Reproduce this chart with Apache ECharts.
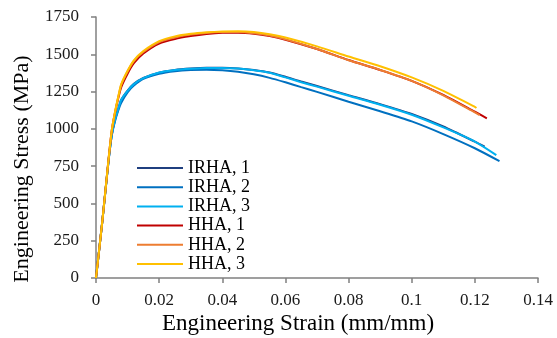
<!DOCTYPE html>
<html>
<head>
<meta charset="utf-8">
<script src="https://cdn.jsdelivr.net/npm/echarts@6/dist/echarts.min.js"></script>
<style>html,body{margin:0;padding:0;background:#fff}#c{width:557px;height:338px}</style>
</head>
<body>
<div id="c"></div>
<script>
// Tick labels
var xTicks = [0, 0.02, 0.04, 0.06, 0.08, 0.1, 0.12, 0.14];
var yTicks = [0, 250, 500, 750, 1000, 1250, 1500, 1750];
var xTitle = 'Engineering Strain (mm/mm)';
var yTitle = 'Engineering Stress (MPa)';

// Series names and colours
var seriesNames = ['IRHA, 1', 'IRHA, 2', 'IRHA, 3', 'HHA, 1', 'HHA, 2', 'HHA, 3'];
var seriesColors = ['#1F3F7F', '#0070C0', '#00B0F0', '#C00000', '#ED7D31', '#FFC000'];

// IRHA, 1
var irha1Strain = [0, 0.002, 0.004, 0.005, 0.006, 0.007, 0.008, 0.01, 0.012, 0.015, 0.02, 0.025, 0.03, 0.035, 0.04, 0.045, 0.05, 0.055, 0.06, 0.065, 0.07, 0.08, 0.09, 0.1, 0.11, 0.12, 0.1231];
var irha1Stress = [0, 380, 790, 960, 1060, 1130, 1195, 1257, 1302, 1342, 1377, 1395, 1404, 1409, 1409, 1405, 1395, 1378, 1349, 1317, 1287, 1226, 1166, 1100, 1016, 914, 880];
// IRHA, 2
var irha2Strain = [0, 0.002, 0.004, 0.005, 0.006, 0.007, 0.008, 0.01, 0.012, 0.015, 0.02, 0.025, 0.03, 0.035, 0.04, 0.045, 0.05, 0.055, 0.06, 0.065, 0.07, 0.08, 0.09, 0.1, 0.11, 0.12, 0.1278];
var irha2Stress = [0, 380, 790, 955, 1050, 1120, 1175, 1245, 1290, 1335, 1370, 1387, 1395, 1397, 1393, 1383, 1366, 1342, 1312, 1280, 1248, 1182, 1118, 1050, 965, 870, 783];
// IRHA, 3
var irha3Strain = [0, 0.002, 0.004, 0.005, 0.006, 0.007, 0.008, 0.01, 0.012, 0.015, 0.02, 0.025, 0.03, 0.035, 0.04, 0.045, 0.05, 0.055, 0.06, 0.065, 0.07, 0.08, 0.09, 0.1, 0.11, 0.12, 0.1268];
var irha3Stress = [0, 380, 790, 960, 1060, 1130, 1195, 1255, 1300, 1340, 1378, 1395, 1403, 1408, 1408, 1404, 1393, 1376, 1345, 1313, 1283, 1222, 1162, 1095, 1010, 915, 824];
// HHA, 1
var hha1Strain = [0, 0.002, 0.004, 0.005, 0.006, 0.007, 0.008, 0.01, 0.012, 0.015, 0.02, 0.025, 0.03, 0.035, 0.04, 0.045, 0.05, 0.055, 0.06, 0.07, 0.08, 0.09, 0.1, 0.11, 0.12, 0.1238];
var hha1Stress = [0, 380, 800, 990, 1105, 1200, 1280, 1370, 1440, 1505, 1572, 1603, 1622, 1636, 1644, 1645, 1638, 1622, 1598, 1535, 1462, 1395, 1322, 1228, 1115, 1071];
// HHA, 2
var hha2Strain = [0, 0.002, 0.004, 0.005, 0.006, 0.007, 0.008, 0.01, 0.012, 0.015, 0.02, 0.025, 0.03, 0.035, 0.04, 0.045, 0.05, 0.055, 0.06, 0.07, 0.08, 0.09, 0.1, 0.11, 0.12, 0.1215];
var hha2Stress = [0, 380, 800, 990, 1110, 1210, 1295, 1385, 1455, 1515, 1582, 1613, 1632, 1643, 1649, 1650, 1641, 1625, 1600, 1535, 1460, 1395, 1322, 1225, 1110, 1092];
// HHA, 3
var hha3Strain = [0, 0.002, 0.004, 0.005, 0.006, 0.007, 0.008, 0.01, 0.012, 0.015, 0.02, 0.025, 0.03, 0.035, 0.04, 0.045, 0.05, 0.055, 0.06, 0.07, 0.08, 0.09, 0.1, 0.11, 0.12, 0.1205];
var hha3Stress = [0, 380, 800, 990, 1110, 1210, 1300, 1390, 1460, 1522, 1588, 1620, 1637, 1647, 1653, 1655, 1650, 1635, 1612, 1553, 1485, 1420, 1345, 1255, 1148, 1140];

var strains = [irha1Strain, irha2Strain, irha3Strain, hha1Strain, hha2Strain, hha3Strain];
var stresses = [irha1Stress, irha2Stress, irha3Stress, hha1Stress, hha2Stress, hha3Stress];

function pairs(xs, ys) { return xs.map(function (x, i) { return [x, ys[i]]; }); }

var FONT = '"Liberation Serif", "Times New Roman", serif';
var axisColor = '#808080';

var chart = echarts.init(document.getElementById('c'), null, { renderer: 'canvas' });
chart.setOption({
  animation: false,
  backgroundColor: '#ffffff',
  grid: { left: 96, right: 19, top: 17, bottom: 60, containLabel: false },
  xAxis: {
    type: 'value', min: xTicks[0], max: xTicks[xTicks.length - 1], interval: 0.02,
    axisLine: { show: true, onZero: false, lineStyle: { color: axisColor, width: 1.5 } },
    axisTick: { show: true, length: 5, lineStyle: { color: axisColor, width: 1.5 } },
    axisLabel: { fontFamily: FONT, fontSize: 17, color: '#1a1a1a', margin: 14,
      formatter: function (v) { return String(parseFloat(v.toFixed(2))); } },
    splitLine: { show: false }
  },
  yAxis: {
    type: 'value', min: yTicks[0], max: yTicks[yTicks.length - 1], interval: 250,
    axisLine: { show: true, lineStyle: { color: axisColor, width: 1.5 } },
    axisTick: { show: true, length: 5, lineStyle: { color: axisColor, width: 1.5 } },
    axisLabel: { fontFamily: FONT, fontSize: 17, color: '#1a1a1a', margin: 17,
      formatter: function (v) { return String(v); } },
    splitLine: { show: false }
  },
  graphic: [
    { type: 'text', x: 298, y: 324, style: { text: xTitle, font: '23px ' + FONT, fill: '#000', textAlign: 'center', textVerticalAlign: 'middle' } },
    { type: 'text', x: 22, y: 169, rotation: Math.PI / 2, style: { text: yTitle, font: '22px ' + FONT, fill: '#000', textAlign: 'center', textVerticalAlign: 'middle' } }
  ],
  legend: {
    orient: 'vertical', left: 132, top: 154,
    itemWidth: 46, itemHeight: 2, itemGap: 1.2,
    icon: 'rect',
    textStyle: { fontFamily: FONT, fontSize: 18, color: '#000', lineHeight: 18, padding: [0, 0, 0, 0] },
    data: seriesNames
  },
  series: seriesNames.map(function (n, i) {
    return {
      name: n, type: 'line', showSymbol: false, smooth: 0.25,
      data: pairs(strains[i], stresses[i]),
      lineStyle: { color: seriesColors[i], width: 2 },
      itemStyle: { color: seriesColors[i] }
    };
  })
});
</script>
</body>
</html>
